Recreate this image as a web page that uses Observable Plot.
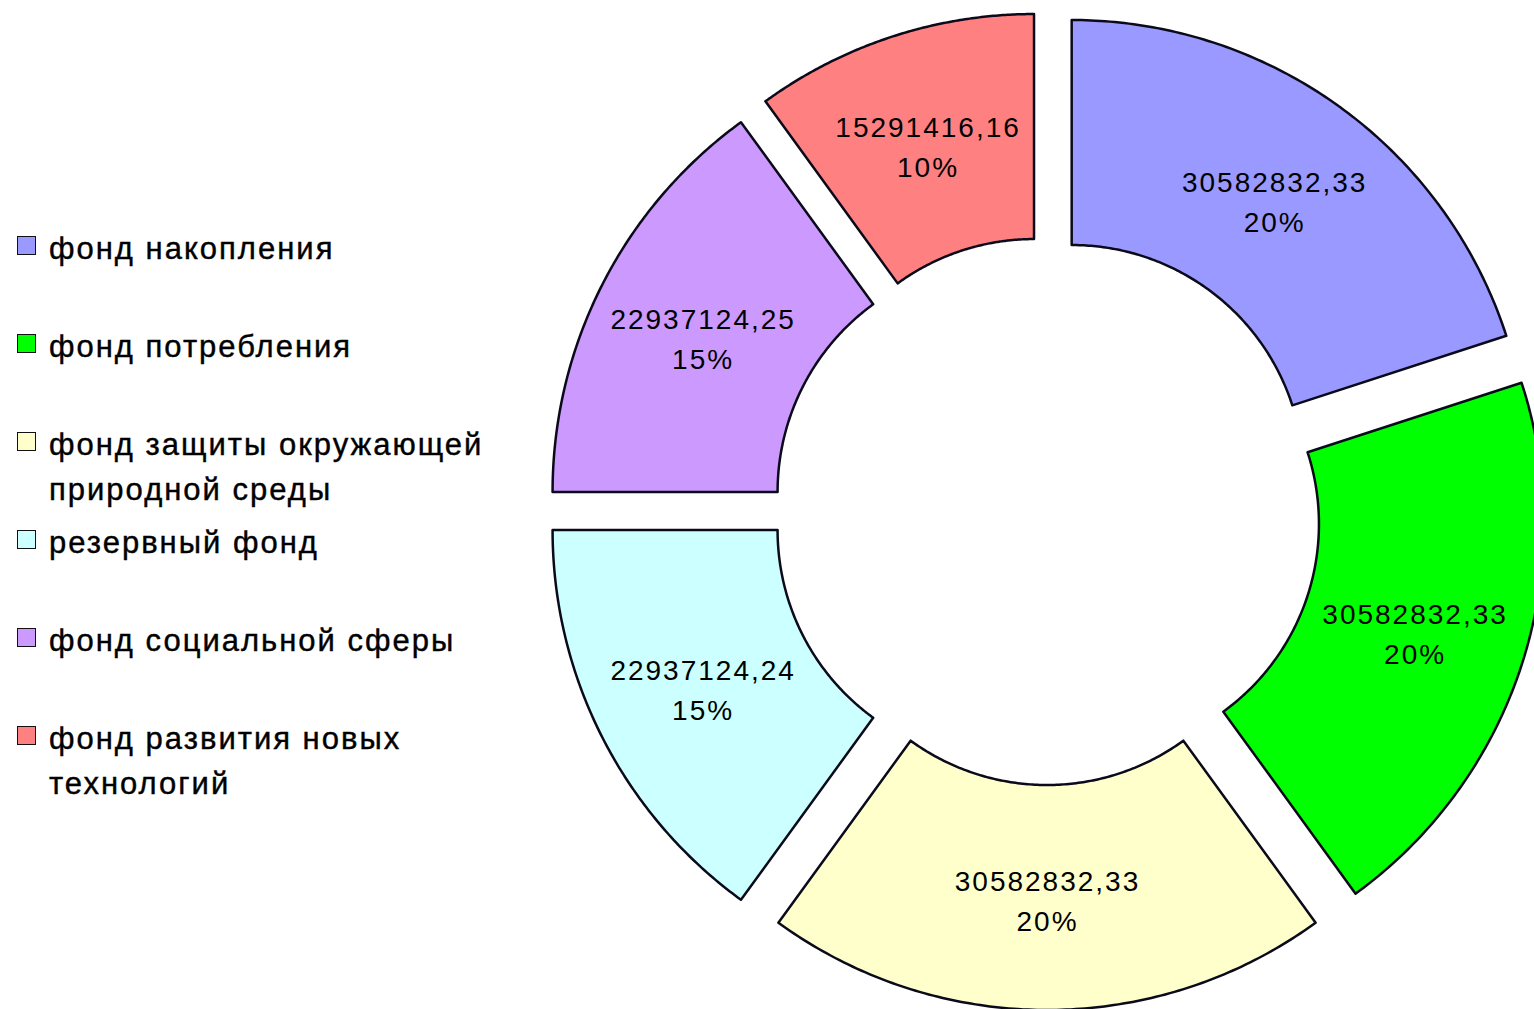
<!DOCTYPE html>
<html><head><meta charset="utf-8">
<script src="https://cdn.jsdelivr.net/npm/d3@7"></script>
<script src="https://cdn.jsdelivr.net/npm/@observablehq/plot@0.6"></script>
<style>
body{margin:0;background:#fff;}
#wrap{position:relative;width:1534px;height:1009px;overflow:hidden;}
#legend{position:absolute;left:0;top:0;font-family:"Liberation Sans",Arial,sans-serif;color:#000;}
.item{position:absolute;left:17px;display:flex;align-items:flex-start;}
.sw{width:17px;height:17px;border:1.5px solid #111;margin-top:10px;flex:none;}
.lbl{margin-left:13px;font-size:31px;letter-spacing:2px;line-height:45px;white-space:pre;-webkit-text-stroke:0.4px #000;}
</style></head>
<body><div id="wrap"><div id="chart"></div><div id="legend"></div></div>
<script>
const categories = ["фонд накопления","фонд потребления","фонд защиты окружающей природной среды","резервный фонд","фонд социальной сферы","фонд развития новых технологий"];
const legendLines = ["фонд накопления","фонд потребления","фонд защиты окружающей\nприродной среды","резервный фонд","фонд социальной сферы","фонд развития новых\nтехнологий"];
const values = [30582832.33, 30582832.33, 30582832.33, 22937124.24, 22937124.25, 15291416.16];
const valueLabels = ["30582832,33","30582832,33","30582832,33","22937124,24","22937124,25","15291416,16"];
const percentLabels = ["20%","20%","20%","15%","15%","10%"];
const colors = ["#9999FF","#00FF00","#FFFFCC","#CCFFFF","#CC99FF","#FF8080"];

const W = 1534, H = 1009;
const cx = 1047, cy = 511;
const rIn = 232, rOut = 457, explode = 42;

const arcs = d3.pie().sort(null).value(d => d)(values);
const rows = [];
const labels = [];
arcs.forEach((a, i) => {
  const mid = (a.startAngle + a.endAngle) / 2;
  const ox = explode * Math.sin(mid), oy = explode * Math.cos(mid);
  const n = 120;
  for (let k = 0; k <= n; k++) {
    const t = a.startAngle + (a.endAngle - a.startAngle) * k / n;
    rows.push({cat: categories[i],
      x1: ox + rIn * Math.sin(t), y1: oy + rIn * Math.cos(t),
      x2: ox + rOut * Math.sin(t), y2: oy + rOut * Math.cos(t)});
  }
  const rm = (rIn + rOut) / 2;
  labels.push({x: ox + rm * Math.sin(mid), y: oy + rm * Math.cos(mid), text: valueLabels[i] + "\n" + percentLabels[i]});
});

const plot = Plot.plot({
  width: W, height: H,
  margin: 0,
  x: {domain: [-cx, W - cx], axis: null},
  y: {domain: [-(H - cy), cy], axis: null},
  color: {domain: categories, range: colors},
  style: {background: "transparent", overflow: "hidden"},
  marks: [
    Plot.area(rows, {x1: "x1", y1: "y1", x2: "x2", y2: "y2", z: "cat", fill: "cat", stroke: "#0a0a1a", strokeWidth: 2.5, curve: "linear"}),
    Plot.text(labels, {x: "x", y: "y", text: "text", fontSize: 28, lineHeight: 1.43, fill: "#000", fontFamily: "Liberation Sans, Arial, sans-serif"})
  ]
});
plot.querySelectorAll("text").forEach(t => t.setAttribute("letter-spacing", "2"));
document.getElementById("chart").appendChild(plot);

const leg = document.getElementById("legend");
legendLines.forEach((l, i) => {
  const it = document.createElement("div");
  it.className = "item";
  it.style.top = (226 + i * 98) + "px";
  const sw = document.createElement("div");
  sw.className = "sw"; sw.style.background = colors[i];
  const tx = document.createElement("div");
  tx.className = "lbl"; tx.textContent = l;
  it.appendChild(sw); it.appendChild(tx);
  leg.appendChild(it);
});
</script></body></html>
